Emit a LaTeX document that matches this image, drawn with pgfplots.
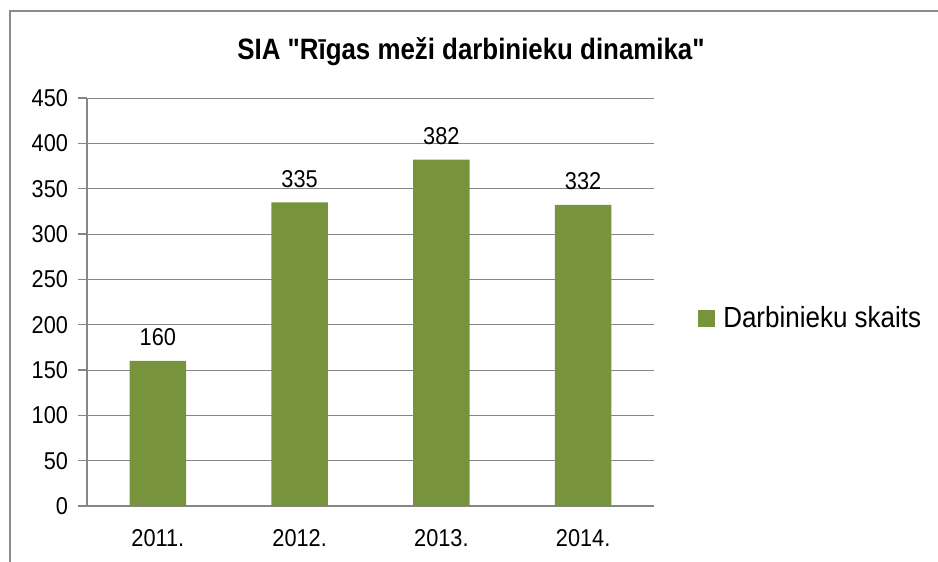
\documentclass[border=0pt]{standalone}
\usepackage{graphicx}
\usepackage{pgfplots}
\pgfplotsset{compat=1.18}
\usepackage{fontspec}
\setmainfont{Liberation Sans}
\newfontfamily\titlefont{Liberation Sans}[Ligatures=TeXOff]
\definecolor{bargreen}{HTML}{77933C}
\definecolor{gridgray}{HTML}{868686}
\definecolor{framegray}{HTML}{8C8C8C}
\newcommand\vs[1]{\scalebox{1}[1.12]{#1}}
\begin{document}
\begin{tikzpicture}[x=1pt,y=1pt]
\path[use as bounding box] (0,0) rectangle (703.5,420.75);
\draw[line width=1.5pt, framegray] (7.5,-2) -- (7.5,412.5) -- (706,412.5);
\node[anchor=base, font=\titlefont\fontsize{19.4}{23}\selectfont\bfseries] at (353.25,375.75) {\scalebox{1}[1.14]{SIA "Rīgas meži darbinieku dinamika"}};
\begin{axis}[
  at={(65.25pt,41.25pt)}, anchor=south west,
  scale only axis, width=425.25pt, height=306pt,
  xmin=-0.5, xmax=3.5, ymin=0, ymax=450,
  ytick={0,50,...,450},
  xtick={0,1,2,3},
  xticklabels={\vs{2011.},\vs{2012.},\vs{2013.},\vs{2014.}},
  yticklabel={\vs{\pgfmathprintnumber{\tick}}},
  extra x ticks={-0.5,0.5,1.5,2.5,3.5},
  extra x tick labels={},
  extra x tick style={major tick length=6pt, tick style={gridgray, line width=0.9pt}, grid=none},
  axis lines*=left,
  axis line style={gridgray, line width=0.9pt},
  tick align=outside,
  x tick style={draw=none},
  y tick style={gridgray, line width=0.9pt},
  major tick length=6.75pt,
  ymajorgrids, grid style={gridgray, line width=0.75pt},
  /pgf/number format/assume math mode=true,
  ticklabel style={font=\fontsize{16.3}{19}\selectfont},
  yticklabel style={xshift=-4pt},
  xticklabel style={yshift=-7pt},
  ybar, bar width=42.3pt,
  nodes near coords={\vs{\pgfmathprintnumber{\pgfplotspointmeta}}},
  every node near coord/.append style={font=\fontsize{16.3}{19}\selectfont, inner sep=0pt, yshift=11pt, black},
  legend style={draw=none, fill=none, at={(1,0.46)}, anchor=west, xshift=33pt,
    font=\fontsize{19.5}{23}\selectfont, inner sep=0pt, column sep=6pt,
    nodes={inner sep=0pt}},
  legend image code/.code={\fill[bargreen] (0pt,-6.375pt) rectangle (12.75pt,6.375pt);},
]
\addplot[fill=bargreen, draw=none] coordinates {(0,160) (1,335) (2,382) (3,332)};
\addlegendentry{\vs{Darbinieku skaits}}
\end{axis}
\end{tikzpicture}
\end{document}
